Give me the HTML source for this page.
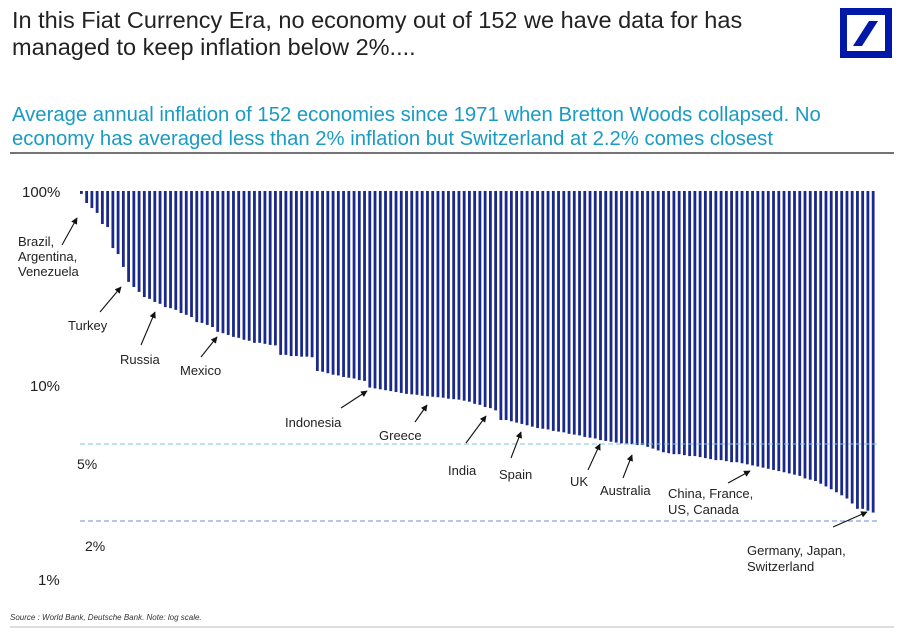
<!DOCTYPE html>
<html><head><meta charset="utf-8">
<style>
body{margin:0;background:#fff;width:904px;height:631px;overflow:hidden;font-family:"Liberation Sans",sans-serif;}
</style></head>
<body>
<svg width="904" height="631" xmlns="http://www.w3.org/2000/svg" font-family="Liberation Sans, sans-serif">
<defs><marker id="ah" viewBox="0 0 10 10" refX="9" refY="5" markerWidth="6" markerHeight="6" orient="auto"><path d="M0,0L10,5L0,10z" fill="#111"/></marker></defs>
<g fill="#222" font-size="23.5">
<text x="12" y="28">In this Fiat Currency Era, no economy out of 152 we have data for has</text>
<text x="12" y="55">managed to keep inflation below 2%....</text>
</g>
<g>
<rect x="840" y="8" width="52" height="50" fill="#0018a8"/>
<rect x="847" y="15" width="38" height="36" fill="#fff"/>
<path d="M853,46 L869,21 L878,21 L862,46Z" fill="#0018a8"/>
</g>
<g fill="#1a9bc4" font-size="20.3">
<text x="12" y="121">Average annual inflation of 152 economies since 1971 when Bretton Woods collapsed. No</text>
<text x="12" y="145">economy has averaged less than 2% inflation but Switzerland at 2.2% comes closest</text>
</g>
<line x1="10" y1="153" x2="894" y2="153" stroke="#222" stroke-width="1.2"/>
<g id="bars"></g>
<line x1="80" y1="444" x2="878" y2="444" stroke="#7fc3e0" stroke-dasharray="5,3"/>
<line x1="80" y1="521" x2="878" y2="521" stroke="#6a8fd0" stroke-dasharray="5,3"/>
<g font-size="15" fill="#222">
<text x="22" y="197">100%</text><text x="30" y="391">10%</text><text x="38" y="585">1%</text>
<text x="77" y="469" font-size="14">5%</text>
<text x="85" y="551" font-size="14">2%</text>
</g>
<g font-size="13" fill="#222">
<text x="18" y="246">Brazil,</text><text x="18" y="261">Argentina,</text><text x="18" y="276">Venezuela</text>
<text x="68" y="330">Turkey</text><text x="120" y="364">Russia</text><text x="180" y="375">Mexico</text>
<text x="285" y="427">Indonesia</text><text x="379" y="440">Greece</text><text x="448" y="475">India</text>
<text x="499" y="479">Spain</text><text x="570" y="486">UK</text><text x="600" y="495">Australia</text>
<text x="668" y="498">China, France,</text><text x="668" y="514">US, Canada</text>
<text x="747" y="555">Germany, Japan,</text><text x="747" y="571">Switzerland</text>
</g>
<g stroke="#111" stroke-width="1.1" marker-end="url(#ah)">
<line x1="62" y1="245" x2="77" y2="218"/><line x1="100" y1="312" x2="121" y2="287"/>
<line x1="141" y1="345" x2="155" y2="312"/><line x1="201" y1="357" x2="217" y2="337"/>
<line x1="341" y1="408" x2="367" y2="391"/><line x1="415" y1="422" x2="427" y2="405"/>
<line x1="466" y1="443" x2="486" y2="416"/><line x1="511" y1="458" x2="521" y2="432"/>
<line x1="588" y1="470" x2="600" y2="444"/><line x1="623" y1="478" x2="632" y2="455"/>
<line x1="728" y1="483" x2="750" y2="471"/><line x1="833" y1="527" x2="867" y2="512"/>
</g>
<text x="10" y="620" font-size="8" font-style="italic" fill="#333">Source : World Bank, Deutsche Bank. Note: log scale.</text>
<line x1="10" y1="627" x2="894" y2="627" stroke="#bbb" stroke-width="1"/>
</svg>
<script>
const values=[96.6,86.7,81.7,77.1,67.6,65.2,50.8,47.3,40.6,34.0,32.0,30.2,28.4,27.8,26.8,26.2,25.2,24.9,24.4,23.5,23.0,22.4,21.1,20.9,20.4,19.9,18.8,18.5,18.1,17.7,17.5,17.1,16.9,16.5,16.5,16.3,16.1,16.0,
14.3,14.3,14.1,14.1,14.0,14.0,13.9,
11.8,11.7,11.5,11.3,11.2,11.0,10.9,10.8,10.6,10.5,
9.7,9.6,9.5,9.4,9.3,9.2,9.1,9.0,8.95,8.9,8.8,8.75,8.7,8.65,8.6,8.5,8.45,
8.4,8.3,8.2,8.0,7.9,7.7,7.6,7.4,
6.6,6.6,6.5,6.4,6.3,
6.2,6.1,6.0,5.95,5.9,5.8,5.75,5.7,5.6,5.55,5.5,5.4,5.35,5.3,
5.2,5.15,5.1,5.05,5.0,5.0,4.95,4.9,
4.9,4.8,4.7,4.6,
4.5,4.45,4.4,4.4,4.35,4.3,4.3,4.25,4.2,4.15,4.1,4.1,4.05,4.0,4.0,
3.95,3.9,3.85,3.8,3.75,3.7,3.65,3.6,3.55,
3.5,3.45,3.4,3.3,3.25,3.2,3.1,3.0,
2.9,2.8,2.7,2.6,2.45,
2.3,2.3,2.25,2.2];
function yScale(v){return 579-194*Math.log10(v);}
function xScale(i){return 80+i*(797/values.length);}
const g=document.getElementById('bars');
values.forEach((v,i)=>{
  const r=document.createElementNS('http://www.w3.org/2000/svg','rect');
  r.setAttribute('x',xScale(i).toFixed(2));
  r.setAttribute('y',yScale(100));
  r.setAttribute('width',2.8);
  r.setAttribute('height',(yScale(v)-yScale(100)).toFixed(2));
  r.setAttribute('fill','#1b2a8a');
  
  
  g.appendChild(r);
});
</script>
</body></html>
